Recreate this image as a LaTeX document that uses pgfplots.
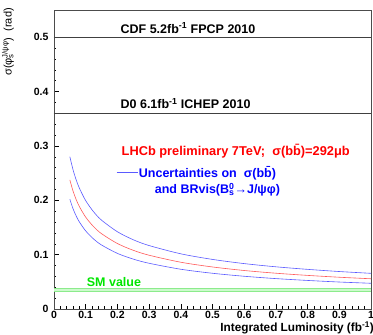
\documentclass[border=0pt]{standalone}
\usepackage{fontspec}
\setmainfont{Liberation Sans}
\usepackage{pgfplots}
\pgfplotsset{compat=1.18}
\usetikzlibrary{calc}
\definecolor{rootblue}{RGB}{90,90,255}
\definecolor{rootred}{RGB}{255,90,90}
\definecolor{smgreen}{RGB}{0,230,0}
\definecolor{bandline}{RGB}{140,235,140}
\definecolor{bandfill}{RGB}{205,250,205}
\begin{document}
\begin{tikzpicture}
\begin{axis}[
  scale only axis, width=317pt, height=299pt,
  xmin=0, xmax=1, ymin=0, ymax=0.55,
  xtick={0,0.1,0.2,0.3,0.4,0.5,0.6,0.7,0.8,0.9,1},
  ytick={0,0.1,0.2,0.3,0.4,0.5},
  minor x tick num=4, minor y tick num=4,
  xtick pos=bottom, ytick pos=left,
  tick align=inside,
  major tick length=5pt, minor tick length=2.5pt,
  tick style={black, line width=0.5pt},
  axis line style={gray!60!black, line width=0.6pt},
  /pgf/number format/assume math mode=true,
  tick label style={font=\fontsize{10.5}{12}\selectfont\bfseries},
  xticklabel style={inner sep=1pt, yshift=-1pt},
  yticklabel style={xshift=-2pt},
  legend style={at={(rel axis cs:0.196,0.456)}, anchor=west, draw=none, fill=none,
    inner sep=0pt, font=\fontsize{12.5}{14}\selectfont\bfseries, text=blue,
    nodes={inner sep=1pt}},
  legend cell align=left,
  legend image code/.code={\draw[#1] (0pt,0pt) -- (21pt,0pt);},
]
% SM band
\addplot[fill=bandfill, draw=none, forget plot] coordinates {(0,0.033) (1,0.033) (1,0.038) (0,0.038)} -- cycle;
\addplot[bandline, line width=0.6pt, forget plot] coordinates {(0,0.033) (1,0.033)};
\addplot[bandline, line width=0.6pt, forget plot] coordinates {(0,0.038) (1,0.038)};
% reference lines
\addplot[gray!50!black, line width=0.6pt, forget plot] coordinates {(0,0.5) (1,0.5)};
\addplot[gray!50!black, line width=0.6pt, forget plot] coordinates {(0,0.36) (1,0.36)};
% curves
\addplot[rootblue, line width=0.6pt, smooth, forget plot] coordinates {
(0.05,0.2803) (0.06,0.2562) (0.07,0.2375) (0.08,0.2224) (0.10,0.1993) (0.125,0.1787)
(0.15,0.1634) (0.20,0.1421) (0.25,0.1274) (0.30,0.1167) (0.40,0.1015) (0.50,0.0912)
(0.60,0.0835) (0.70,0.0776) (0.80,0.0729) (0.90,0.0689) (1.00,0.0656)};
\addplot[rootred, line width=0.6pt, smooth, forget plot] coordinates {
(0.05,0.2375) (0.06,0.2171) (0.07,0.2013) (0.08,0.1885) (0.10,0.1689) (0.125,0.1514)
(0.15,0.1385) (0.20,0.1204) (0.25,0.1080) (0.30,0.0989) (0.40,0.0860) (0.50,0.0773)
(0.60,0.0708) (0.70,0.0658) (0.80,0.0618) (0.90,0.0584) (1.00,0.0556)};
\addplot[rootblue, line width=0.6pt, smooth, forget plot] coordinates {
(0.05,0.2019) (0.06,0.1845) (0.07,0.1711) (0.08,0.1602) (0.10,0.1436) (0.125,0.1287)
(0.15,0.1177) (0.20,0.1023) (0.25,0.0918) (0.30,0.0841) (0.40,0.0731) (0.50,0.0657)
(0.60,0.0602) (0.70,0.0559) (0.80,0.0525) (0.90,0.0496) (1.00,0.0473)};
\addlegendimage{rootblue, line width=0.6pt}
\addlegendentry{Uncertainties on\ \ σ(b\={b})}
% texts
\node[anchor=base west, font=\fontsize{12.5}{14}\selectfont\bfseries] at (axis cs:0.199,0.5074) {CDF 5.2fb\textsuperscript{-1} FPCP 2010};
\node[anchor=base west, font=\fontsize{12.5}{14}\selectfont\bfseries] at (axis cs:0.199,0.3685) {D0 6.1fb\textsuperscript{-1} ICHEP 2010};
\node[anchor=west, inner sep=0pt, text=red, font=\fontsize{12.8}{14}\selectfont\bfseries] at (axis cs:0.213,0.2907) {LHCb preliminary 7TeV;\ \ σ(b\={b})=292μb};
\node[anchor=west, inner sep=0pt, text=blue, font=\fontsize{12.5}{14}\selectfont\bfseries] at (axis cs:0.3176,0.219) {and BRvis(B\rlap{\textsubscript{s}}\textsuperscript{0}→J/ψφ)};
\node[anchor=west, inner sep=0pt, text=smgreen, font=\fontsize{12.5}{14}\selectfont\bfseries] at (axis cs:0.103,0.0494) {SM value};
\end{axis}
\node[anchor=base east, inner sep=0pt, font=\fontsize{11.8}{13}\selectfont\bfseries] at ($(current axis.south east)+(3pt,-23pt)$) {Integrated Luminosity (fb\textsuperscript{-1})};
\node[anchor=east, rotate=90, inner sep=0pt, font=\fontsize{11}{12}\selectfont] at ($(current axis.north west)+(-46pt,2pt)$) {σ(φ\rlap{\textsubscript{s}}\textsuperscript{J/ψφ})\ \ (rad)};
\pgfresetboundingbox
\path ($(current axis.south west)+(-54pt,-26pt)$) rectangle ($(current axis.north east)+(2pt,10pt)$);
\end{tikzpicture}
\end{document}
